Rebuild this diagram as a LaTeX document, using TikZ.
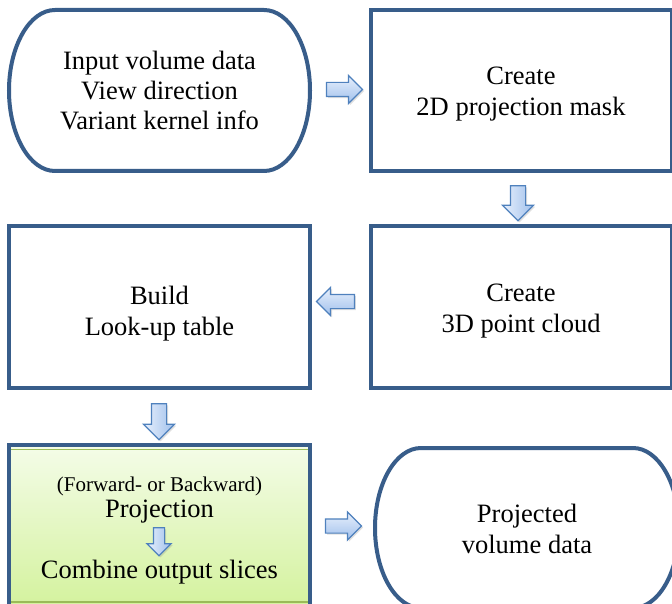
\documentclass[tikz,border=0pt]{standalone}
\usepackage{fontspec}
\setmainfont{Liberation Serif}
\usetikzlibrary{shapes.arrows,shadows,calc}
\definecolor{frameblue}{RGB}{56,93,138}
\definecolor{arrowline}{RGB}{79,129,189}
\definecolor{arrowlight}{RGB}{232,240,252}
\definecolor{arrowdark}{RGB}{160,192,236}
\definecolor{greentop}{RGB}{244,252,232}
\definecolor{greenbot}{RGB}{212,242,158}
\definecolor{greenline}{RGB}{155,187,89}
\begin{document}
\begin{tikzpicture}[x=1pt,y=1pt,
  boxframe/.style={draw=frameblue, line width=4pt},
  bigfont/.style={font=\fontsize{26.5}{31}\selectfont},
  stepbox/.style={boxframe, rectangle, fill=white, minimum width=301pt, minimum height=161pt, inner sep=0pt},
  blocktext/.style={align=center, bigfont, inner sep=0pt},
  blockarrow/.style={single arrow, draw=arrowline, line width=1.2pt, drop shadow={opacity=0.25, shadow xshift=1.5pt, shadow yshift=-1.5pt}},
  harrow/.style={blockarrow, top color=arrowlight, bottom color=arrowdark, inner sep=6.5pt, minimum height=36pt, single arrow head extend=7pt},
  varrow/.style={blockarrow, left color=arrowlight, right color=arrowdark, inner sep=7pt, minimum height=35pt, single arrow head extend=8pt, shape border rotate=270},
]
\useasboundingbox (0,0) rectangle (672,-604);
\clip (0,0) rectangle (672,-604);

% input terminator
\draw[boxframe, fill=white] (55,-10) -- (264,-10)
  arc[start angle=90,end angle=-90,x radius=46pt,y radius=80.5pt] -- (55,-171)
  arc[start angle=270,end angle=90,x radius=46pt,y radius=80.5pt] -- cycle;
\node[blocktext, font=\fontsize{26.5}{30}\selectfont] (input) at (159.5,-90.5) {Input volume data\\View direction\\Variant kernel info};

\node[stepbox] (mask) at (521,-90.5) {};
\node[blocktext] (maskt) at (521,-94) {Create\\2D projection mask};
\node[stepbox] (cloud) at (521,-307) {};
\node[blocktext] (cloudt) at (521,-311) {Create\\3D point cloud};
\node[stepbox] (lut) at (159.5,-307) {};
\node[blocktext] (lutt) at (159.5,-313.5) {Build\\Look-up table};

% projection box
\shade[top color=greentop, bottom color=greenbot] (9,-445) rectangle (310,-606);
\draw[greenline, line width=1.5pt] (11,-449.5) -- (308,-449.5);
\draw[greenline, line width=1.5pt] (11,-602) -- (308,-602);
\node[boxframe, rectangle, minimum width=301pt, minimum height=161pt, inner sep=0pt] (proj) at (159.5,-525.5) {};
\node[anchor=base, inner sep=0pt, font=\fontsize{21}{25}\selectfont] (fb) at (159.5,-491) {(Forward- or Backward)};
\node[anchor=base, blocktext] (pj) at (159.5,-517) {Projection};
\node[anchor=base, blocktext] (comb) at (159.5,-578.5) {Combine output slices};
\node[varrow, inner sep=5pt, minimum height=28pt, single arrow head extend=6.5pt] (sa) at (159,-539) {};

% output terminator
\draw[boxframe, fill=white] (421,-448) -- (633,-448)
  arc[start angle=90,end angle=-90,x radius=46pt,y radius=80pt] -- (421,-608)
  arc[start angle=270,end angle=90,x radius=46pt,y radius=80pt] -- cycle;
\node[blocktext] (out) at (527,-529) {Projected\\volume data};

% block arrows
\node[harrow] (a1) at (341,-89.5) {};
\node[varrow] (a2) at (518,-199.5) {};
\node[harrow, shape border rotate=180, minimum height=38pt] (a3) at (339,-301.5) {};
\node[varrow, minimum height=36pt] (a4) at (159,-418) {};
\node[harrow] (a5) at (340,-526) {};
\end{tikzpicture}
\end{document}
